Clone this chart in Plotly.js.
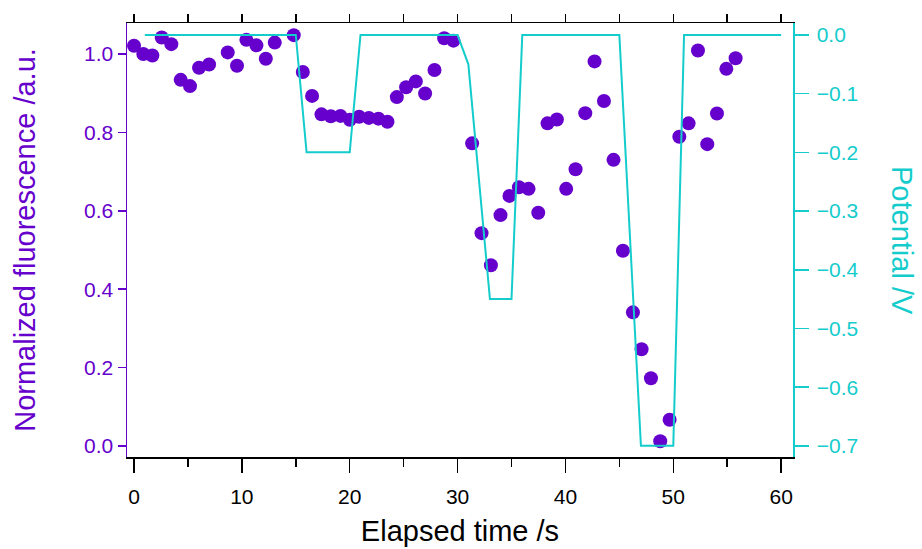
<!DOCTYPE html>
<html>
<head>
<meta charset="utf-8">
<script src="https://cdn.plot.ly/plotly-3.0.1.min.js"></script>
<style>html,body{margin:0;padding:0;background:#fff;}#chart{width:922px;height:549px;}</style>
</head>
<body>
<div id="chart"></div>
<script>
// Fluorescence data (time in s, normalized fluorescence in a.u.)
const fluorTime = [0.0,0.86,1.70,2.57,3.46,4.33,5.19,6.03,6.96,8.69,9.55,10.42,11.35,12.22,13.05,14.81,
  15.65,16.51,17.38,18.25,19.14,20.01,20.87,21.77,22.66,23.50,24.37,25.23,26.13,26.99,27.86,28.76,29.62,
  31.35,32.22,33.09,33.98,34.81,35.69,36.58,37.48,38.34,39.21,40.07,40.94,41.84,42.70,43.57,44.46,
  45.33,46.26,47.06,47.93,48.79,49.66,50.56,51.42,52.29,53.15,54.05,54.92,55.78];
const fluorValue = [1.021,1.000,0.996,1.042,1.025,0.934,0.918,0.965,0.973,1.004,0.970,1.036,1.022,0.988,1.029,1.048,
  0.954,0.893,0.846,0.841,0.842,0.832,0.840,0.837,0.835,0.827,0.890,0.915,0.930,0.899,0.959,1.040,1.034,
  0.772,0.543,0.461,0.589,0.638,0.660,0.656,0.595,0.823,0.833,0.656,0.706,0.849,0.981,0.880,0.730,
  0.498,0.341,0.247,0.173,0.012,0.067,0.789,0.823,1.009,0.770,0.848,0.962,0.989];

// Applied potential (time in s, potential in V)
const potTime = [1,15,16,20,21,30,31,33,35,36,45,47,50,51,60];
const potValue = [0,0,-0.2,-0.2,0,0,-0.05,-0.45,-0.45,0,0,-0.7,-0.7,0,0];

const xTicks = [0,10,20,30,40,50,60];

const purple = '#6600cc';
const cyan = '#14cccc';
const fontFam = '"Liberation Sans", Arial, sans-serif';
const xRange = [-0.65, 61.1];

const traces = [
  {x: fluorTime, y: fluorValue, type: 'scatter', mode: 'markers', xaxis: 'x', yaxis: 'y',
   marker: {color: purple, size: 14}, showlegend: false, hoverinfo: 'x+y'},
  {x: potTime, y: potValue, type: 'scatter', mode: 'lines', xaxis: 'x', yaxis: 'y2',
   line: {color: cyan, width: 2}, showlegend: false, hoverinfo: 'x+y'},
  // empty trace so the top (frame) axis is drawn
  {x: [], y: [], type: 'scatter', mode: 'markers', xaxis: 'x2', yaxis: 'y', showlegend: false, hoverinfo: 'skip'}
];

const layout = {
  width: 922, height: 549,
  margin: {l: 127, r: 129, t: 23, b: 92},
  paper_bgcolor: '#fff', plot_bgcolor: '#fff',
  font: {family: fontFam, size: 21, color: '#000'},
  xaxis: {
    range: xRange, tickvals: xTicks, ticktext: xTicks.map(String),
    showgrid: false, zeroline: false,
    showline: true, linecolor: '#000', linewidth: 1.5,
    ticks: 'outside', ticklen: 14, tickwidth: 1.5, tickcolor: '#000',
    minor: {dtick: 5, tick0: 0, ticks: 'outside', ticklen: 8, tickwidth: 1.5, tickcolor: '#000', showgrid: false},
    tickfont: {size: 21, color: '#000'}, ticklabelstandoff: 6,
    title: {text: 'Elapsed time /s', font: {size: 29, color: '#000'}, standoff: 14}
  },
  xaxis2: {
    overlaying: 'x', side: 'top', range: xRange, dtick: 5, tick0: 0,
    showgrid: false, zeroline: false, showticklabels: false,
    showline: true, linecolor: '#000', linewidth: 1.5,
    ticks: 'outside', ticklen: 8, tickwidth: 1.5, tickcolor: '#000'
  },
  yaxis: {
    range: [-0.028, 1.079], dtick: 0.2, tick0: 0, tickformat: '.1f',
    showgrid: false, zeroline: false,
    showline: true, linecolor: purple, linewidth: 1.5,
    ticks: 'outside', ticklen: 8, tickwidth: 1.5, tickcolor: purple,
    tickfont: {size: 21, color: purple},
    title: {text: 'Normalized fluorescence /a.u.', font: {size: 29, color: purple}, standoff: 40}
  },
  yaxis2: {
    overlaying: 'y', side: 'right',
    range: [-0.719, 0.0204], dtick: 0.1, tick0: 0, tickformat: '.1f',
    showgrid: false, zeroline: false,
    showline: true, linecolor: cyan, linewidth: 1.5,
    ticks: 'outside', ticklen: 14, tickwidth: 1.5, tickcolor: cyan,
    tickfont: {size: 21, color: cyan}, ticklabelstandoff: 4
  },
  annotations: [{
    text: 'Potential /V', xref: 'paper', yref: 'paper', x: 1, xshift: 109, y: 0.5,
    xanchor: 'center', yanchor: 'middle',
    showarrow: false, textangle: 90, font: {size: 29, color: cyan}
  }]
};

Plotly.newPlot('chart', traces, layout, {staticPlot: true, displayModeBar: false});
</script>
</body>
</html>
